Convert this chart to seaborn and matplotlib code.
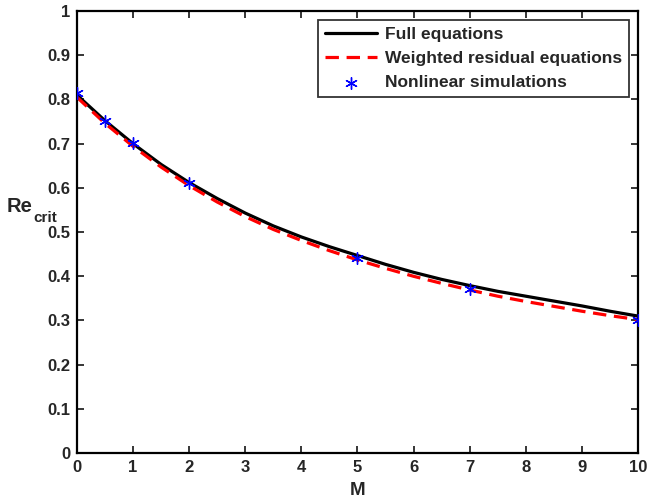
import matplotlib
matplotlib.use("Agg")
import matplotlib.pyplot as plt
import seaborn as sns
import pandas as pd

M_curve = [0, 0.5, 1, 1.5, 2, 2.5, 3, 3.5, 4, 4.5, 5, 5.5, 6, 6.5, 7, 7.5, 8, 8.5, 9, 9.5, 10]
full_eq = [0.810, 0.752, 0.700, 0.653, 0.612, 0.576, 0.543, 0.514, 0.489, 0.467, 0.447,
           0.427, 0.409, 0.393, 0.379, 0.366, 0.355, 0.344, 0.333, 0.321, 0.310]
weighted_eq = [0.805, 0.746, 0.694, 0.647, 0.605, 0.568, 0.535, 0.506, 0.481, 0.458, 0.437,
               0.418, 0.400, 0.384, 0.369, 0.355, 0.343, 0.332, 0.321, 0.311, 0.302]
M_sim = [0, 0.5, 1, 2, 5, 7, 10]
nonlinear_sim = [0.814, 0.752, 0.702, 0.611, 0.441, 0.371, 0.300]

x_ticks = list(range(0, 11))
y_ticks = [0, 0.1, 0.2, 0.3, 0.4, 0.5, 0.6, 0.7, 0.8, 0.9, 1]

sns.set_style("ticks")
plt.rcParams['font.family'] = ['Liberation Sans', 'DejaVu Sans']
plt.rcParams['font.weight'] = 'bold'

df_full = pd.DataFrame({"M": M_curve, "Re": full_eq})
df_w = pd.DataFrame({"M": M_curve, "Re": weighted_eq})
df_s = pd.DataFrame({"M": M_sim, "Re": nonlinear_sim})

fig = plt.figure(figsize=(6.47, 5.04), dpi=100)
ax = fig.add_axes([0.119, 0.101, 0.867, 0.877])

sns.lineplot(data=df_full, x="M", y="Re", ax=ax, color="black", linewidth=2.3,
             label="Full equations")
sns.lineplot(data=df_w, x="M", y="Re", ax=ax, color="red", linewidth=2.3,
             linestyle=(0, (4.2, 2.4)), label="Weighted residual equations")
sns.scatterplot(data=df_s, x="M", y="Re", ax=ax, color="blue", marker=(6, 2, 0),
                s=70, linewidth=1.0, label="Nonlinear simulations", zorder=5)

ax.set_xlim(0, 10)
ax.set_ylim(0, 1)
ax.set_xticks(x_ticks)
ax.set_xticklabels([str(t) for t in x_ticks])
ax.set_yticks(y_ticks)
ax.set_yticklabels(["0"] + [f"{t:.1f}" for t in y_ticks[1:-1]] + ["1"])
ax.tick_params(direction="in", top=True, right=True, length=5, width=1.3,
               labelsize=12, pad=5)
for lbl in ax.get_xticklabels() + ax.get_yticklabels():
    lbl.set_fontweight("bold")
for sp in ax.spines.values():
    sp.set_visible(True)
    sp.set_linewidth(1.6)
    sp.set_color("black")

ax.set_xlabel("M", fontsize=13.5, fontweight="bold", labelpad=5)
ax.set_ylabel("")
fig.text(7 / 647, 1 - 212 / 504, "Re", fontsize=14.5, fontweight="bold",
         ha="left", va="baseline")
fig.text(33 / 647, 1 - 222 / 504, "crit", fontsize=11, fontweight="bold",
         ha="left", va="baseline")

leg = ax.legend(loc="upper right", fontsize=12.5, frameon=True, fancybox=False,
                edgecolor="black", borderaxespad=0.5, handlelength=3.0,
                handletextpad=0.45, borderpad=0.4, labelspacing=0.52)
leg.get_frame().set_linewidth(1.3)
for t in leg.get_texts():
    t.set_fontweight("bold")

fig.savefig("out.png", dpi=100)
